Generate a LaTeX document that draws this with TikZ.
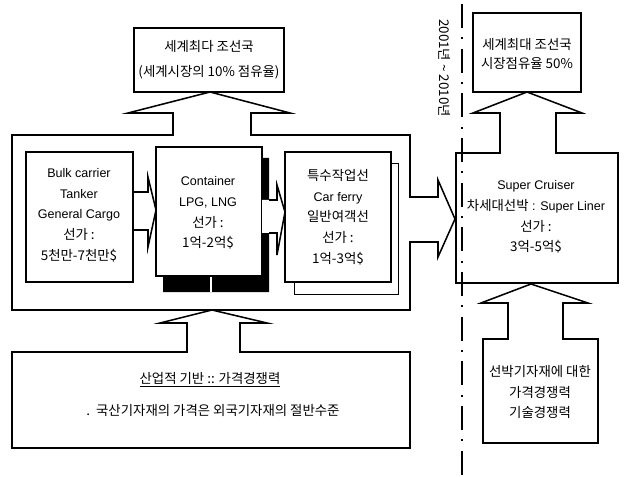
\documentclass[tikz,border=0pt]{standalone}
\usepackage{fontspec}
\setmainfont{Liberation Sans}
\newfontfamily\kr[Scale=1.07]{Noto Sans CJK KR}
\begin{document}
\begin{tikzpicture}[x=0.75pt,y=-0.75pt,line join=miter,
  ln/.style={line width=1.15pt},
  thinln/.style={line width=0.7pt},
  txt/.style={align=center,inner sep=0pt,font=\fontsize{9.4}{15.5}\selectfont},
  dashdot/.style={line width=1.2pt,dash pattern=on 18pt off 7pt on 1.5pt off 7pt}]
\useasboundingbox (0,0) rectangle (624,477);

% ---- top left goal box
\draw[ln] (134,28) rectangle (284,92);
\node[txt] (goal1) at (209,60) {{\kr 세계최다 조선국}\\[3pt]{\kr (세계시장의 10\% 점유율)}};

% ---- outer group with arrows up and right
\draw[ln,fill=white] (12,135) -- (173,135) -- (173,113) -- (128,113) -- (210,92) -- (290,113)
  -- (251,113) -- (251,135) -- (410,135) -- (410,197) -- (438,197) -- (438,180) -- (455,219)
  -- (438,257) -- (438,242) -- (410,242) -- (410,310) -- (12,310) -- cycle;

% ---- box A
\draw[ln] (26,152) rectangle (133,282);
\node[txt] (boxA) at (79,215) {Bulk carrier\\Tanker\\General Cargo\\{\kr 선가 :}\\{\kr 5천만-7천만\$}};
\draw[ln] (133,192) -- (148,192) -- (148,177) -- (156,210) -- (148,247) -- (148,230) -- (133,230);

% ---- box B with black shadow
\fill (262,158) -- (269,158) -- (269,292) -- (163,292) -- (163,276) -- (262,276) -- cycle;
\draw[white,line width=1pt] (211,277) -- (211,292);
\draw[ln,fill=white] (156,147) rectangle (262,276);
\node[txt] (boxB) at (208,213) {Container\\LPG, LNG\\{\kr 선가 :}\\{\kr 1억-2억\$}};
\fill[white] (262,200) -- (277,200) -- (277,185) -- (285,212) -- (277,255) -- (277,233) -- (262,233) -- cycle;
\draw[ln] (269,200) -- (277,200) -- (277,185) -- (285,212) -- (277,255) -- (277,233) -- (269,233);

% ---- box C with outline shadow
\draw[thinln] (294,163) rectangle (398,294);
\draw[ln,fill=white] (285,152) rectangle (391,282);
\node[txt] (boxC) at (338,217) {{\kr 특수작업선}\\Car ferry\\{\kr 일반여객선}\\{\kr 선가 :}\\{\kr 1억-3억\$}};

% ---- bottom left base box with arrow up
\draw[ln] (12,352) -- (187,352) -- (187,323) -- (160,323) -- (212,310) -- (267,323) -- (240,323)
  -- (240,352) -- (410,352) -- (410,448) -- (12,448) -- cycle;
\node[txt] (base1) at (210,380) {\underline{\kr 산업적 기반 :: 가격경쟁력}};
\node[txt] (base2) at (213,410) {{\kr .\ \ 국산기자재의 가격은 외국기자재의 절반수준}};

% ---- top right goal box
\draw[ln] (473,13) rectangle (581,92);
\node[txt] (goal2) at (527,54) {{\kr 세계최대 조선국}\\[-1pt]{\kr 시장점유율 50\%}};

% ---- super cruiser box with arrow up
\draw[ln,fill=white] (456,153) -- (500,153) -- (500,113) -- (473,113) -- (527,92) -- (582,113)
  -- (556,113) -- (556,153) -- (618,153) -- (618,283) -- (456,283) -- cycle;
\node[txt] (super) at (536,217) {Super Cruiser\\{\kr 차세대선박} : Super Liner\\{\kr 선가 :}\\{\kr 3억-5억\$}};

% ---- bottom right box with arrow up
\draw[ln] (483,339) -- (508,339) -- (508,303) -- (481,303) -- (531,284) -- (588,303) -- (563,303)
  -- (563,339) -- (598,339) -- (598,443) -- (483,443) -- cycle;
\node[txt] (equip) at (540,392) {{\kr 선박기자재에 대한}\\{\kr 가격경쟁력}\\{\kr 기술경쟁력}};

% ---- time line
\draw[dashdot] (462,4) -- (462,477);
\node[txt,rotate=-90] (years) at (445,68) {{\kr 2001년 \textasciitilde{} 2010년}};
\end{tikzpicture}
\end{document}
